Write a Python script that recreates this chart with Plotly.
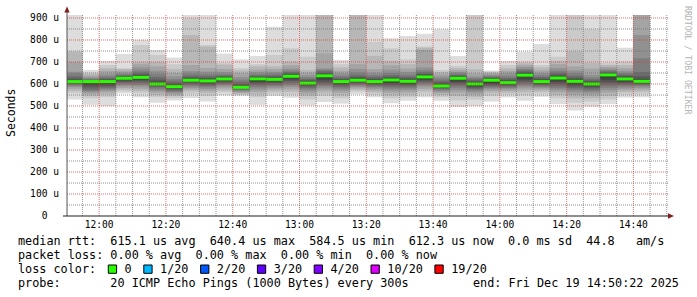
import plotly.graph_objects as go
import pandas as pd

# ---------------- data ----------------
DAY = "2025-12-19"
bar_start = ["11:50", "11:55", "12:00", "12:05", "12:10", "12:15", "12:20", "12:25",
             "12:30", "12:35", "12:40", "12:45", "12:50", "12:55", "13:00", "13:05",
             "13:10", "13:15", "13:20", "13:25", "13:30", "13:35", "13:40", "13:45",
             "13:50", "13:55", "14:00", "14:05", "14:10", "14:15", "14:20", "14:25",
             "14:30", "14:35", "14:40"]

median_us = [611, 611, 611, 626, 630, 600, 588, 617, 614, 623, 585, 623, 621, 635, 604,
             637, 611, 617, 611, 618, 612, 632, 591, 626, 600, 617, 606, 640, 611, 627,
             612, 600, 641, 623, 612]

# 20 sorted ping round-trip times (microseconds) per 5-minute probe
pings_us = [
    [530, 558, 568, 578, 586, 592, 598, 603, 607, 610, 613, 618, 625, 635, 648, 656, 700, 745, 750, 960],
    [505, 535, 545, 555, 562, 568, 575, 585, 595, 605, 612, 614, 617, 620, 625, 630, 638, 645, 652, 664],
    [500, 540, 552, 562, 570, 576, 583, 590, 598, 606, 613, 617, 622, 628, 636, 645, 660, 672, 686, 705],
    [557, 566, 574, 582, 590, 597, 604, 610, 616, 622, 628, 631, 635, 640, 645, 652, 660, 668, 672, 736],
    [540, 558, 568, 578, 588, 596, 604, 612, 619, 626, 632, 637, 644, 652, 662, 675, 690, 700, 777, 800],
    [515, 540, 550, 560, 568, 576, 584, 590, 595, 599, 603, 610, 620, 632, 645, 660, 680, 700, 732, 755],
    [525, 537, 545, 552, 558, 564, 570, 576, 581, 585, 590, 596, 603, 612, 622, 635, 650, 668, 690, 720],
    [536, 555, 567, 575, 583, 590, 597, 603, 609, 614, 619, 624, 630, 638, 648, 660, 686, 823, 898, 960],
    [520, 545, 558, 568, 577, 585, 592, 598, 604, 610, 617, 622, 628, 636, 645, 656, 673, 770, 777, 960],
    [548, 562, 570, 580, 588, 595, 601, 607, 613, 619, 626, 630, 634, 638, 645, 655, 668, 688, 695, 738],
    [545, 550, 555, 560, 565, 570, 574, 578, 581, 583, 587, 592, 600, 610, 620, 632, 648, 662, 672, 712],
    [505, 540, 553, 565, 575, 585, 594, 602, 609, 617, 626, 630, 634, 639, 645, 655, 665, 680, 690, 727],
    [545, 556, 566, 575, 583, 590, 597, 604, 611, 617, 624, 628, 633, 640, 648, 656, 668, 680, 732, 860],
    [537, 553, 565, 576, 586, 595, 604, 613, 621, 630, 639, 643, 648, 654, 661, 670, 685, 702, 762, 960],
    [502, 530, 545, 556, 566, 575, 583, 590, 596, 601, 607, 612, 617, 623, 630, 640, 652, 664, 724, 960],
    [518, 545, 558, 570, 580, 590, 598, 607, 617, 628, 640, 645, 651, 658, 665, 671, 739, 940, 950, 960],
    [511, 535, 548, 560, 570, 579, 587, 595, 602, 608, 614, 618, 623, 630, 638, 648, 660, 675, 690, 709],
    [553, 565, 573, 580, 587, 593, 598, 604, 609, 614, 620, 625, 632, 640, 652, 668, 690, 935, 945, 960],
    [540, 552, 562, 571, 579, 586, 592, 598, 603, 608, 614, 619, 625, 633, 642, 652, 668, 728, 792, 960],
    [512, 535, 548, 560, 570, 579, 588, 596, 604, 612, 621, 626, 632, 640, 650, 665, 685, 705, 762, 808],
    [524, 540, 552, 562, 572, 580, 588, 595, 601, 608, 615, 620, 626, 634, 643, 655, 670, 690, 712, 818],
    [540, 555, 567, 578, 588, 597, 605, 612, 619, 626, 635, 640, 646, 653, 662, 675, 755, 765, 770, 828],
    [524, 540, 550, 558, 565, 571, 577, 582, 586, 589, 594, 600, 607, 615, 625, 635, 645, 655, 664, 848],
    [495, 525, 545, 560, 572, 583, 593, 602, 610, 618, 629, 633, 637, 642, 648, 655, 663, 672, 682, 727],
    [500, 528, 542, 553, 562, 570, 577, 583, 589, 595, 603, 608, 614, 620, 627, 635, 648, 667, 950, 960],
    [520, 545, 558, 568, 576, 583, 589, 595, 601, 608, 620, 623, 627, 632, 637, 642, 648, 652, 657, 661],
    [539, 552, 561, 569, 576, 582, 588, 593, 598, 603, 609, 614, 620, 627, 636, 648, 660, 672, 686, 705],
    [524, 548, 562, 574, 584, 593, 602, 611, 620, 632, 645, 650, 655, 661, 668, 676, 685, 694, 702, 747],
    [542, 556, 566, 574, 581, 587, 593, 598, 603, 608, 614, 619, 625, 632, 640, 650, 662, 675, 686, 782],
    [509, 535, 550, 562, 572, 581, 590, 600, 610, 620, 630, 636, 643, 651, 660, 672, 690, 705, 724, 960],
    [479, 515, 535, 550, 562, 572, 581, 589, 597, 605, 615, 621, 628, 637, 648, 662, 680, 747, 950, 960],
    [497, 520, 535, 548, 558, 567, 575, 583, 590, 596, 603, 608, 614, 621, 630, 642, 670, 695, 848, 960],
    [509, 530, 545, 560, 572, 583, 594, 605, 617, 630, 644, 648, 652, 657, 663, 670, 678, 686, 695, 960],
    [538, 553, 563, 572, 580, 588, 596, 603, 610, 617, 627, 632, 637, 643, 650, 660, 672, 686, 702, 765],
    [540, 555, 566, 575, 583, 590, 596, 601, 605, 609, 615, 622, 635, 655, 717, 823, 930, 940, 950, 960],
]

smoke_colors = ["#dddddd", "#cacaca", "#b7b7b7", "#a4a4a4", "#919191",
                "#7e7e7e", "#6b6b6b", "#585858", "#454545", "#323232"]

y_tick_vals = [0, 100, 200, 300, 400, 500, 600, 700, 800, 900]
y_tick_text = ["0\u00a0\u00a0", "100 u", "200 u", "300 u", "400 u",
               "500 u", "600 u", "700 u", "800 u", "900 u"]
x_tick_labels = ["12:00", "12:20", "12:40", "13:00", "13:20", "13:40", "14:00", "14:20", "14:40"]

loss_labels = ["0", "1/20", "2/20", "3/20", "4/20", "10/20", "19/20"]
loss_colors = ["#26ff00", "#00b8ff", "#0059ff", "#5e00ff", "#7e00ff", "#dd00ff", "#ff0000"]

stat_rtt = "median rtt:  615.1 us avg  640.4 us max  584.5 us min  612.3 us now  0.0 ms sd  44.8   am/s"
stat_loss = "packet loss: 0.00 % avg  0.00 % max  0.00 % min  0.00 % now"
probe_text = "probe:       20 ICMP Echo Pings (1000 Bytes) every 300s"
end_text = "end: Fri Dec 19 14:50:22 2025"

X_START = f"{DAY} 11:50:22"
X_END = f"{DAY} 14:50:22"
Y_TOP = 913.6

# ---------------- geometry helpers (pixel -> paper) ----------------
W, H = 697, 297
L, R, T, B = 67, 29, 15, 81
PW, PH = W - L - R, H - T - B


def px(x):
    return (x - L) / PW


def py(y):
    return (H - B - y) / PH


MONO = "DejaVu Sans Mono"
fig = go.Figure()

t0 = pd.to_datetime([f"{DAY} {t}" for t in bar_start])
STEP = pd.Timedelta(minutes=5)

for j, col in enumerate(smoke_colors):
    lo = [p[j] for p in pings_us]
    hi = [p[19 - j] for p in pings_us]
    fig.add_trace(go.Bar(
        x=[t.strftime("%Y-%m-%d %H:%M:%S") for t in t0],
        y=[h - l for h, l in zip(hi, lo)], base=lo,
        width=STEP.total_seconds() * 1000, offset=0,
        marker=dict(color=col, line=dict(width=0)),
        hoverinfo="skip", showlegend=False))

mx, my = [], []
for t, m in zip(t0, median_us):
    mx += [t.strftime("%Y-%m-%d %H:%M:%S"), (t + STEP).strftime("%Y-%m-%d %H:%M:%S"), None]
    my += [m, m, None]
fig.add_trace(go.Scatter(x=mx, y=my, mode="lines", line=dict(color=loss_colors[0], width=3),
                         hoverinfo="skip", showlegend=False))

shapes = []
MINOR = "rgba(110,110,110,0.75)"
MAJOR = "rgba(215,60,60,0.75)"
DASH = "1px,1px"
# vertical grid
for t in pd.date_range(f"{DAY} 11:55", f"{DAY} 14:50", freq="5min"):
    major = (t.minute % 20 == 0)
    shapes.append(dict(type="line", xref="x", yref="paper", x0=t, x1=t, y0=0, y1=1,
                       line=dict(color=MAJOR if major else MINOR, width=1, dash=DASH), layer="above"))
# horizontal grid
for v in range(50, 901, 50):
    major = (v % 100 == 0)
    shapes.append(dict(type="line", xref="paper", yref="y", x0=0, x1=1, y0=v, y1=v,
                       line=dict(color=MAJOR if major else MINOR, width=1, dash=DASH), layer="above"))
# axes
AXC = "#1f1f1f"
shapes.append(dict(type="line", xref="paper", yref="paper", x0=px(67), x1=px(67), y0=py(216), y1=py(10),
                   line=dict(color="#555555", width=1), layer="above"))
shapes.append(dict(type="line", xref="paper", yref="paper", x0=px(63), x1=px(670), y0=py(216), y1=py(216),
                   line=dict(color=AXC, width=1), layer="above"))
ARC = "#801f1f"
shapes.append(dict(type="path", xref="paper", yref="paper",
                   path=f"M {px(67)} {py(6.5)} L {px(64.3)} {py(12.5)} L {px(69.7)} {py(12.5)} Z",
                   fillcolor=ARC, line=dict(color=ARC, width=0), layer="above"))
shapes.append(dict(type="path", xref="paper", yref="paper",
                   path=f"M {px(674)} {py(216)} L {px(668)} {py(213.3)} L {px(668)} {py(218.7)} Z",
                   fillcolor=ARC, line=dict(color=ARC, width=0), layer="above"))

# ---------------- text ----------------
CW = 7.1          # monospace char advance at 11.8 px
TX0 = 16
annotations = []


def nb(s):
    return s.replace(" ", "\u00a0")


def line_text(s, yc, x=TX0, anchor="left"):
    annotations.append(dict(text=nb(s), xref="paper", yref="paper", x=px(x), y=py(yc),
                            xanchor=anchor, yanchor="middle", showarrow=False,
                            font=dict(family=MONO, size=11.8, color="black")))


line_text(stat_rtt, 241)
line_text(stat_loss, 255)
loss_line = "loss color:  "
for lab, col in zip(loss_labels, loss_colors):
    idx = len(loss_line)
    x0 = TX0 + idx * CW
    shapes.append(dict(type="rect", xref="paper", yref="paper", x0=px(x0), x1=px(x0 + 8.3),
                       y0=py(273.3), y1=py(265), fillcolor=col, line=dict(color="black", width=1)))
    loss_line += "  " + lab + "  "
line_text(loss_line.rstrip(), 269)
line_text(probe_text, 283)
line_text(end_text, 283, x=681, anchor="right")

annotations.append(dict(text="Seconds", xref="paper", yref="paper", x=px(10.5), y=py(113.5),
                        textangle=-90, showarrow=False, xanchor="center", yanchor="middle",
                        font=dict(family=MONO, size=11.5, color="black")))
annotations.append(dict(text=nb("RRDTOOL / TOBI OETIKER"), xref="paper", yref="paper", x=px(688),
                        y=py(60), textangle=90, showarrow=False, xanchor="center", yanchor="middle",
                        font=dict(family=MONO, size=8.2, color="#b4b4b4")))

fig.update_layout(
    width=W, height=H, margin=dict(l=L, r=R, t=T, b=B, pad=0, autoexpand=False),
    paper_bgcolor="white", plot_bgcolor="white", barmode="overlay", showlegend=False,
    font=dict(family=MONO, size=9.6, color="black"),
    shapes=shapes, annotations=annotations,
)
fig.update_xaxes(type="date", range=[X_START, X_END],
                 tickvals=[f"{DAY} {t}" for t in x_tick_labels], ticktext=x_tick_labels,
                 showgrid=False, zeroline=False, showline=False, ticks="",
                 tickfont=dict(family=MONO, size=9.6, color="black"), ticklabelstandoff=1)
fig.update_yaxes(range=[0, Y_TOP], tickvals=y_tick_vals, ticktext=y_tick_text,
                 showgrid=False, zeroline=False, showline=False, ticks="",
                 tickfont=dict(family=MONO, size=9.6, color="black"), ticklabelstandoff=7)

fig.write_html("out.html")
